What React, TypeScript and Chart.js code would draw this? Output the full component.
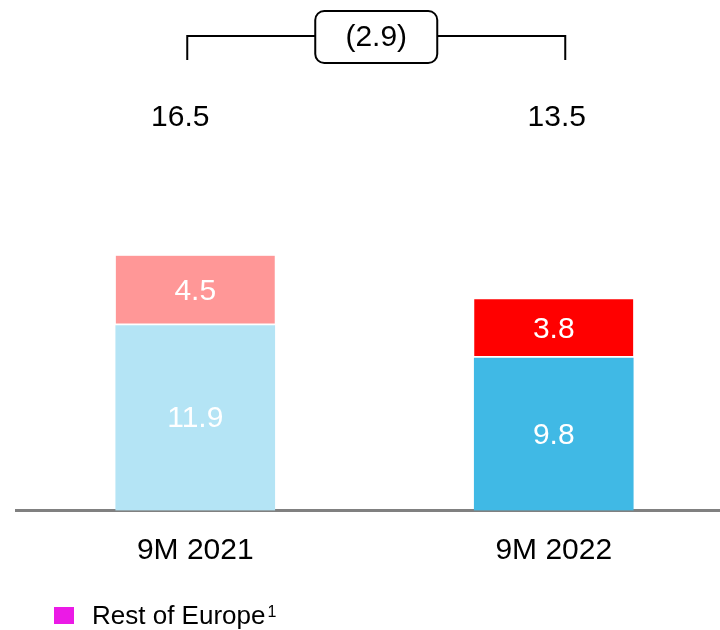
import React, { useEffect, useRef } from 'react';
import { Chart, registerables } from 'chart.js';

Chart.register(...registerables);

const categories = ['9M 2021', '9M 2022'];
const baseValues = [11.9, 9.8];
const topValues = [4.5, 3.8];
const baseLabels = ['11.9', '9.8'];
const topLabels = ['4.5', '3.8'];
const totalLabels = ['16.5', '13.5'];
const changeLabel = '(2.9)';
const legendLabel = 'Rest of Europe';
const legendNote = '1';

const baseColors = ['#B4E4F5', '#40B9E5'];
const topColors = ['#FF9797', '#FF0000'];
const legendColor = '#EB1AE6';

const FONT = '"Liberation Sans", Arial, sans-serif';
const totalDx = [-15, 3];

const annotations = {
  id: 'annotations',
  afterDraw(chart: any) {
    const ctx = chart.ctx;
    const xs = chart.scales.x;
    ctx.save();
    // segment labels
    ctx.font = `30px ${FONT}`;
    ctx.fillStyle = '#FFFFFF';
    ctx.textAlign = 'center';
    ctx.textBaseline = 'middle';
    [baseLabels, topLabels].forEach((labels, d) => {
      const meta = chart.getDatasetMeta(d);
      meta.data.forEach((el: any, i: number) => {
        const p = el.getProps(['x', 'y', 'base'], true);
        ctx.fillText(labels[i], p.x, (p.y + p.base) / 2 + 1);
      });
    });
    // totals
    ctx.fillStyle = '#000000';
    totalLabels.forEach((t, i) => {
      ctx.fillText(t, xs.getPixelForValue(i) + totalDx[i], 118);
    });
    // bracket
    const x1 = xs.getPixelForValue(0) - 8;
    const x2 = xs.getPixelForValue(1) + 11.5;
    const yTop = 36;
    const yBot = 60;
    ctx.strokeStyle = '#000000';
    ctx.lineWidth = 2;
    ctx.beginPath();
    ctx.moveTo(x1, yBot);
    ctx.lineTo(x1, yTop);
    ctx.lineTo(x2, yTop);
    ctx.lineTo(x2, yBot);
    ctx.stroke();
    const cx = (x1 + x2) / 2;
    const bw = 122;
    const bh = 52;
    const by = 11;
    ctx.fillStyle = '#FFFFFF';
    ctx.beginPath();
    (ctx as any).roundRect(cx - bw / 2, by, bw, bh, 9);
    ctx.fill();
    ctx.stroke();
    ctx.fillStyle = '#000000';
    ctx.fillText(changeLabel, cx, by + bh / 2 + 1);
    // legend
    ctx.fillStyle = legendColor;
    ctx.fillRect(54, 607, 20, 17);
    ctx.fillStyle = '#000000';
    ctx.textAlign = 'left';
    ctx.textBaseline = 'alphabetic';
    ctx.font = `26px ${FONT}`;
    ctx.fillText(legendLabel, 92, 624);
    const w = ctx.measureText(legendLabel).width;
    ctx.font = `16px ${FONT}`;
    ctx.fillText(legendNote, 92 + w + 2, 617);
    ctx.restore();
  },
};

export default function App() {
  const ref = useRef<HTMLCanvasElement>(null);
  useEffect(() => {
    if (!ref.current) return;
    const chart = new Chart(ref.current, {
      type: 'bar',
      data: {
        labels: categories,
        datasets: [
          {
            label: 'base',
            data: baseValues,
            backgroundColor: baseColors,
            borderWidth: 0,
            barThickness: 159,
          },
          {
            label: 'top',
            data: topValues,
            backgroundColor: topColors,
            borderColor: '#FFFFFF',
            borderWidth: { top: 0, left: 0, right: 0, bottom: 2.5 },
            borderSkipped: false,
            barThickness: 159,
          },
        ],
      },
      options: {
        animation: false,
        responsive: false,
        maintainAspectRatio: false,
        layout: { padding: { left: 16, right: 7, top: 0, bottom: 39.5 } },
        plugins: { legend: { display: false }, tooltip: { enabled: false } },
        scales: {
          x: {
            stacked: true,
            offset: true,
            grid: { display: false, drawTicks: false, tickLength: 0 },
            border: { display: true, color: '#808080', width: 3 },
            ticks: {
              color: '#000000',
              font: { family: FONT, size: 30 },
              padding: 22,
            },
          },
          y: {
            stacked: true,
            display: false,
            min: 0,
            max: 32.85,
          },
        },
      },
      plugins: [annotations],
    });
    return () => chart.destroy();
  }, []);
  return (
    <div style={{ position: 'fixed', left: 0, top: 0, width: 720, height: 630, overflow: 'hidden', background: '#fff' }}>
      <canvas ref={ref} width={740} height={630} style={{ display: 'block', width: 740, height: 630 }} />
    </div>
  );
}
